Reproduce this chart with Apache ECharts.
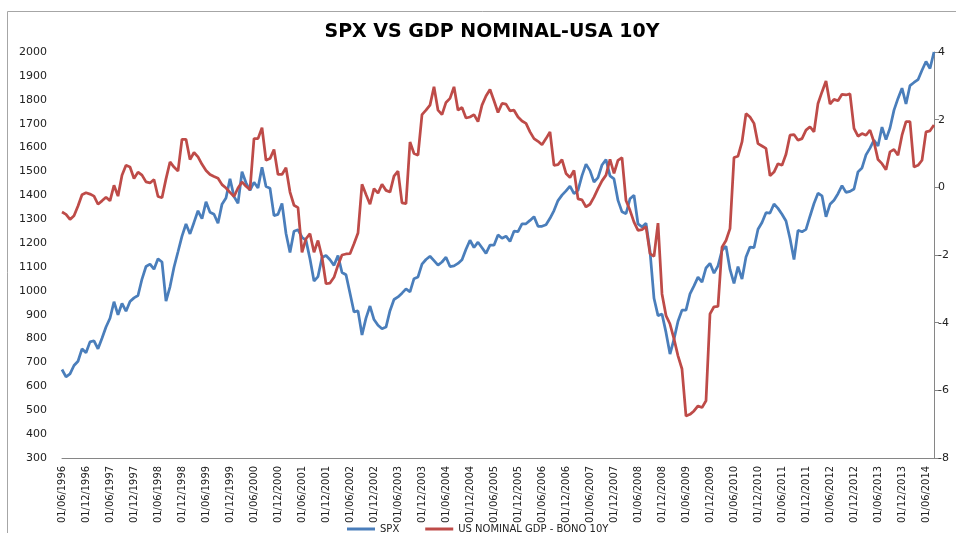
<!DOCTYPE html>
<html>
<head>
<meta charset="utf-8">
<script src="https://cdn.jsdelivr.net/npm/echarts@6/dist/echarts.min.js"></script>
<style>
  html, body { margin: 0; padding: 0; background: #fff; }
  #main { width: 956px; height: 533px; }
</style>
</head>
<body>
<div id="main"></div>
<script>
// SPX monthly, from 06/1996
const spx = [
  670.6, 640.0, 652.0, 687.3, 705.3, 757.0, 740.7,
  786.2, 790.8, 757.1, 801.3, 848.3, 885.1, 954.3, 899.5, 947.3, 914.6, 955.4, 970.4,
  980.3, 1049.3, 1101.8, 1111.8, 1090.8, 1133.8, 1120.7, 957.3, 1017.0, 1098.7, 1163.6, 1229.2,
  1279.6, 1238.3, 1286.4, 1335.2, 1301.8, 1372.7, 1328.7, 1320.4, 1282.7, 1362.9, 1388.9, 1469.3,
  1394.5, 1366.4, 1498.6, 1452.4, 1420.6, 1454.6, 1430.8, 1517.7, 1436.5, 1429.4, 1315.0, 1320.3,
  1366.0, 1239.9, 1160.3, 1249.5, 1255.8, 1224.4, 1211.2, 1133.6, 1040.9, 1059.8, 1139.5, 1148.1,
  1130.2, 1106.7, 1147.4, 1076.9, 1067.1, 989.8, 911.6, 916.1, 815.3, 885.8, 936.3, 879.8,
  855.7, 841.2, 848.2, 916.9, 963.6, 974.5, 990.3, 1008.0, 996.0, 1050.7, 1058.2, 1111.9,
  1131.1, 1144.9, 1126.2, 1107.3, 1120.7, 1140.8, 1101.7, 1104.2, 1114.6, 1130.2, 1173.8, 1211.9,
  1181.3, 1203.6, 1180.6, 1156.9, 1191.5, 1191.3, 1234.2, 1220.3, 1228.8, 1207.0, 1249.5, 1248.3,
  1280.1, 1280.7, 1294.8, 1310.6, 1270.1, 1270.2, 1276.7, 1303.8, 1335.9, 1377.9, 1400.6, 1418.3,
  1438.2, 1406.8, 1420.9, 1482.4, 1530.6, 1503.4, 1455.3, 1474.0, 1526.8, 1549.4, 1481.1, 1468.4,
  1378.6, 1330.6, 1322.7, 1385.6, 1400.4, 1280.0, 1267.4, 1282.8, 1166.4, 968.8, 896.2, 903.3,
  825.9, 735.1, 797.9, 872.8, 919.1, 919.3, 987.5, 1020.6, 1057.1, 1036.2, 1095.6, 1115.1,
  1073.9, 1104.5, 1169.4, 1186.7, 1089.4, 1030.7, 1101.6, 1049.3, 1141.2, 1183.3, 1180.6, 1257.6,
  1286.1, 1327.2, 1325.8, 1363.6, 1345.2, 1320.6, 1292.3, 1218.9, 1131.4, 1253.3, 1247.0, 1257.6,
  1312.4, 1365.7, 1408.5, 1397.9, 1310.3, 1362.2, 1379.3, 1406.6, 1440.7, 1412.2, 1416.2, 1426.2,
  1498.1, 1514.7, 1569.2, 1597.6, 1630.7, 1606.3, 1685.7, 1633.0, 1681.6, 1756.5, 1805.8, 1848.4,
  1782.6, 1859.5, 1872.3, 1884.0, 1923.6, 1960.2, 1930.7, 2000.0
];

// nominal GDP growth minus 10y bond yield (right axis)
const gdpBond = [
  -0.73, -0.80, -0.95, -0.84, -0.55, -0.22, -0.16,
  -0.20, -0.26, -0.50, -0.40, -0.29, -0.40, 0.06, -0.26, 0.36, 0.65, 0.60, 0.26,
  0.45, 0.36, 0.16, 0.13, 0.23, -0.27, -0.31, 0.25, 0.75, 0.60, 0.48, 1.42,
  1.42, 0.82, 1.03, 0.90, 0.68, 0.50, 0.38, 0.32, 0.27, 0.08, -0.02, -0.15,
  -0.27, -0.02, 0.16, 0.03, -0.07, 1.44, 1.44, 1.76, 0.80, 0.85, 1.12, 0.38,
  0.38, 0.58, -0.14, -0.53, -0.60, -1.92, -1.52, -1.37, -1.92, -1.57, -2.06, -2.85,
  -2.83, -2.66, -2.30, -2.00, -1.97, -1.96, -1.67, -1.35, 0.09, -0.21, -0.50, -0.04,
  -0.17, 0.09, -0.09, -0.14, 0.33, 0.48, -0.46, -0.48, 1.34, 1.00, 0.95, 2.15,
  2.28, 2.43, 2.97, 2.28, 2.15, 2.51, 2.63, 2.97, 2.28, 2.36, 2.05, 2.08,
  2.15, 1.94, 2.43, 2.70, 2.89, 2.56, 2.21, 2.48, 2.46, 2.26, 2.28, 2.08,
  1.96, 1.89, 1.64, 1.44, 1.36, 1.26, 1.44, 1.64, 0.65, 0.67, 0.82, 0.41,
  0.29, 0.50, -0.34, -0.37, -0.58, -0.50, -0.29, -0.04, 0.19, 0.36, 0.83, 0.41,
  0.80, 0.88, -0.39, -0.68, -1.03, -1.27, -1.25, -1.16, -1.96, -2.04, -1.06, -3.15,
  -3.79, -4.04, -4.48, -4.98, -5.37, -6.76, -6.71, -6.61, -6.46, -6.51, -6.31, -3.74,
  -3.53, -3.52, -1.77, -1.57, -1.22, 0.88, 0.92, 1.34, 2.18, 2.08, 1.89, 1.29,
  1.22, 1.15, 0.34, 0.45, 0.70, 0.65, 0.98, 1.54, 1.56, 1.39, 1.44, 1.69,
  1.79, 1.64, 2.48, 2.82, 3.14, 2.46, 2.60, 2.56, 2.75, 2.73, 2.76, 1.74,
  1.51, 1.59, 1.54, 1.69, 1.34, 0.82, 0.70, 0.52, 1.05, 1.12, 0.95, 1.54,
  1.94, 1.94, 0.60, 0.65, 0.80, 1.64, 1.67, 1.84
];

// one label per month, 01/MM/YYYY, starting 06/1996
const dates = [];
for (let i = 0; i < spx.length; i++) {
  const m = (5 + i) % 12 + 1;
  const y = 1996 + Math.floor((5 + i) / 12);
  dates.push('01/' + (m < 10 ? '0' + m : m) + '/' + y);
}

const chart = echarts.init(document.getElementById('main'));

const option = {
  backgroundColor: '#fff',
  animation: false,
  graphic: [{
    type: 'rect',
    shape: { x: 7.5, y: 11.5, width: 1000, height: 600 },
    style: { fill: 'none', stroke: '#a6a6a6', lineWidth: 1 },
    silent: true
  }],
  title: {
    text: 'SPX VS GDP NOMINAL-USA 10Y',
    left: 487,
    top: 18,
    textAlign: 'center',
    textStyle: { fontFamily: 'DejaVu Sans', fontWeight: 'bold', fontSize: 19, color: '#000' }
  },
  legend: {
    left: 342,
    top: 519,
    icon: 'rect',
    itemWidth: 28,
    itemHeight: 3,
    itemGap: 26,
    textStyle: { fontFamily: 'DejaVu Sans', fontSize: 10, color: '#222' },
    data: ['SPX', 'US NOMINAL GDP - BONO 10Y']
  },
  grid: { left: 62, right: 22, top: 52, bottom: 75 },
  xAxis: {
    type: 'category',
    data: dates,
    boundaryGap: false,
    position: 'bottom',
    axisLine: { show: true, onZero: true, onZeroAxisIndex: 0, lineStyle: { color: '#868686', width: 1 } },
    axisTick: { show: false },
    axisLabel: {
      interval: 5,
      rotate: 90,
      margin: 8,
      fontFamily: "'Liberation Sans Narrow', 'DejaVu Sans Condensed', sans-serif",
      fontSize: 11,
      color: '#222'
    }
  },
  yAxis: [
    {
      type: 'value',
      min: 300,
      max: 2000,
      interval: 100,
      axisLine: { show: false },
      axisTick: { show: false },
      splitLine: { show: false },
      axisLabel: {
        margin: 15,
        fontFamily: 'DejaVu Sans',
        fontSize: 11,
        color: '#222',
        formatter: v => String(v)
      }
    },
    {
      type: 'value',
      position: 'right',
      min: -8,
      max: 4,
      interval: 2,
      axisLine: { show: true, onZero: false, lineStyle: { color: '#868686', width: 1 } },
      axisTick: { show: true, length: 5, lineStyle: { color: '#868686' } },
      splitLine: { show: false },
      axisLabel: { margin: 4, fontFamily: 'DejaVu Sans', fontSize: 11, color: '#222' }
    }
  ],
  series: [
    {
      name: 'SPX',
      type: 'line',
      yAxisIndex: 0,
      data: spx,
      symbol: 'none',
      lineStyle: { color: '#4a7ebb', width: 2.75 },
      itemStyle: { color: '#4a7ebb' },
      markLine: {
        silent: true,
        symbol: 'none',
        label: { show: false },
        lineStyle: { color: '#868686', width: 1, type: 'solid' },
        data: [{ yAxis: 300 }]
      }
    },
    {
      name: 'US NOMINAL GDP - BONO 10Y',
      type: 'line',
      yAxisIndex: 1,
      data: gdpBond,
      symbol: 'none',
      lineStyle: { color: '#be4b48', width: 2.75 },
      itemStyle: { color: '#be4b48' }
    }
  ]
};

chart.setOption(option);
</script>
</body>
</html>
